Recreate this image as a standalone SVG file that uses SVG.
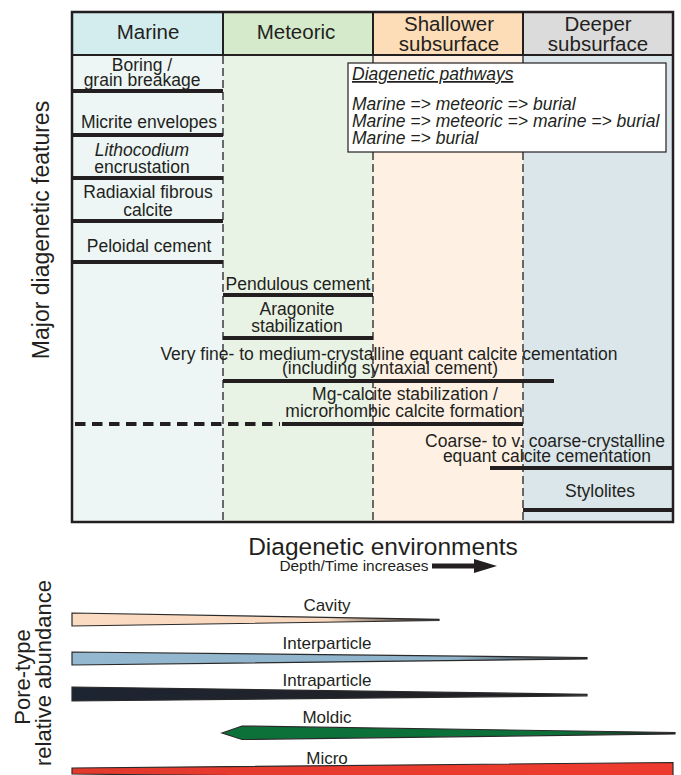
<svg xmlns="http://www.w3.org/2000/svg" width="681" height="775" viewBox="0 0 681 775">
<style>
text{font-family:"Liberation Sans",Arial,sans-serif;fill:#231f20}
.hd{font-size:20.5px;text-anchor:middle}
.ft{font-size:17.5px;text-anchor:middle}
.lg{font-size:17.5px;font-style:italic}
.pl{font-size:17px;text-anchor:middle}
.big{font-size:23px;text-anchor:middle}
.bar{stroke:#231f20;stroke-width:4;fill:none}
.dv{stroke:#231f20;stroke-width:1.3;stroke-dasharray:8 4;fill:none}
.sd{stroke:#231f20;stroke-width:2;fill:none}
.wd{stroke:#2a2a2a;stroke-width:1.2;stroke-linejoin:miter}
</style>
<defs>
<linearGradient id="gCav" x1="72" y1="0" x2="439" y2="0" gradientUnits="userSpaceOnUse"><stop offset="0" stop-color="#fbdcc2"/><stop offset="0.7" stop-color="#f7d7bd"/><stop offset="1" stop-color="#231f20"/></linearGradient>
<linearGradient id="gInter" x1="72" y1="0" x2="587" y2="0" gradientUnits="userSpaceOnUse"><stop offset="0" stop-color="#93b8cf"/><stop offset="0.75" stop-color="#8fb3ca"/><stop offset="1" stop-color="#231f20"/></linearGradient>
<linearGradient id="gIntra" x1="72" y1="0" x2="587" y2="0" gradientUnits="userSpaceOnUse"><stop offset="0" stop-color="#1d2532"/><stop offset="1" stop-color="#231f20"/></linearGradient>
<linearGradient id="gMold" x1="222" y1="0" x2="675" y2="0" gradientUnits="userSpaceOnUse"><stop offset="0" stop-color="#0b7139"/><stop offset="0.75" stop-color="#0b7139"/><stop offset="1" stop-color="#231f20"/></linearGradient>
<linearGradient id="gMicro" x1="72" y1="0" x2="673" y2="0" gradientUnits="userSpaceOnUse"><stop offset="0" stop-color="#e33a2d"/><stop offset="1" stop-color="#ee3b2f"/></linearGradient>
</defs>

<g id="columns">
<rect x="72" y="55" width="151" height="467" fill="#edf6f5"/>
<rect x="223" y="55" width="150" height="467" fill="#e9f3e5"/>
<rect x="373" y="55" width="150" height="467" fill="#fef1e4"/>
<rect x="523" y="55" width="150" height="467" fill="#dbe6ea"/>
<rect x="72" y="12" width="151" height="43" fill="#d3ecee"/>
<rect x="223" y="12" width="150" height="43" fill="#d5e9cb"/>
<rect x="373" y="12" width="150" height="43" fill="#fddcb8"/>
<rect x="523" y="12" width="150" height="43" fill="#dcdbdb"/>
<line class="sd" x1="72" y1="55" x2="673" y2="55"/>
<line class="sd" x1="223" y1="12" x2="223" y2="55"/>
<line class="sd" x1="373" y1="12" x2="373" y2="55"/>
<line class="sd" x1="523" y1="12" x2="523" y2="55"/>
<line class="dv" x1="223" y1="56" x2="223" y2="521"/>
<line class="dv" x1="373" y1="56" x2="373" y2="521"/>
<line class="dv" x1="523" y1="56" x2="523" y2="521"/>
<rect x="72" y="12" width="601" height="510" fill="none" stroke="#231f20" stroke-width="2.5"/>
</g>

<g id="headers">
<g id="h-marine"><text class="hd" x="148" y="39">Marine</text></g>
<g id="h-meteoric"><text class="hd" x="296" y="39">Meteoric</text></g>
<g id="h-shallower"><text class="hd" x="449" y="31">Shallower</text><text class="hd" x="449" y="51">subsurface</text></g>
<g id="h-deeper"><text class="hd" x="598" y="31">Deeper</text><text class="hd" x="598" y="51">subsurface</text></g>
</g>

<g id="legend">
<rect x="348" y="63" width="318" height="89" fill="#ffffff" stroke="#231f20" stroke-width="1.2"/>
<text class="lg" x="352" y="80" text-decoration="underline">Diagenetic pathways</text>
<text class="lg" x="352" y="110">Marine =&gt; meteoric =&gt; burial</text>
<text class="lg" x="352" y="127">Marine =&gt; meteoric =&gt; marine =&gt; burial</text>
<text class="lg" x="352" y="144">Marine =&gt; burial</text>
</g>

<g id="features">
<g id="f-boring"><text class="ft" x="142" y="71">Boring /</text><text class="ft" x="142" y="86">grain breakage</text></g>
<g id="f-micrite"><text class="ft" x="149" y="128">Micrite envelopes</text></g>
<g id="f-litho"><text class="ft" x="142" y="156" font-style="italic">Lithocodium</text><text class="ft" x="142" y="173">encrustation</text></g>
<g id="f-radiaxial"><text class="ft" x="148" y="198">Radiaxial fibrous</text><text class="ft" x="148" y="216">calcite</text></g>
<g id="f-peloidal"><text class="ft" x="149" y="252">Peloidal cement</text></g>
<g id="f-pendulous"><text class="ft" x="298" y="290">Pendulous cement</text></g>
<g id="f-aragonite"><text class="ft" x="297" y="315">Aragonite</text><text class="ft" x="297" y="332">stabilization</text></g>
<g id="f-veryfine"><text class="ft" x="389" y="360">Very fine- to medium-crystalline equant calcite cementation</text><text class="ft" x="390" y="374">(including syntaxial cement)</text></g>
<g id="f-mgcalcite"><text class="ft" x="405" y="400">Mg-calcite stabilization /</text><text class="ft" x="404" y="417">microrhombic calcite formation</text></g>
<g id="f-coarse"><text class="ft" x="545" y="447">Coarse- to v. coarse-crystalline</text><text class="ft" x="547" y="462">equant calcite cementation</text></g>
<g id="f-stylolites"><text class="ft" x="600" y="497">Stylolites</text></g>
</g>

<g id="connectors">
<line class="bar" x1="72" y1="91" x2="223" y2="91"/>
<line class="bar" x1="72" y1="135" x2="223" y2="135"/>
<line class="bar" x1="72" y1="178" x2="223" y2="178"/>
<line class="bar" x1="72" y1="221" x2="223" y2="221"/>
<line class="bar" x1="72" y1="262" x2="223" y2="262"/>
<line class="bar" x1="223" y1="295" x2="373" y2="295"/>
<line class="bar" x1="223" y1="338" x2="373" y2="338"/>
<line class="bar" x1="223" y1="381" x2="554" y2="381"/>
<line class="bar" x1="75" y1="424" x2="280" y2="424" stroke-dasharray="10.5 6.5"/>
<line class="bar" x1="282" y1="424" x2="523" y2="424"/>
<line class="bar" x1="490" y1="468" x2="673" y2="468"/>
<line class="bar" x1="523" y1="510" x2="673" y2="510"/>
</g>

<g id="axes">
<text class="big" transform="translate(49,230) rotate(-90)" x="0" y="0">Major diagenetic features</text>
<text x="383" y="555" font-size="24.5" text-anchor="middle">Diagenetic environments</text>
<text x="354" y="571" font-size="15.4" text-anchor="middle">Depth/Time increases</text>
<polygon points="432,563.5 474,563.5 474,559 497,566 474,573 474,568.5 432,568.5" fill="#231f20"/>
<text font-size="22" text-anchor="middle" transform="translate(30,677) rotate(-90)">Pore-type</text>
<text font-size="22" text-anchor="middle" transform="translate(51,673) rotate(-90)">relative abundance</text>
</g>

<g id="pores">
<g id="p-cavity"><polygon class="wd" points="72,613 439,619.3 439,620.5 72,626" fill="url(#gCav)"/><text class="pl" x="327" y="611">Cavity</text></g>
<g id="p-inter"><polygon class="wd" points="72,652 587,657.5 587,659 72,665" fill="url(#gInter)"/><text class="pl" x="327" y="649">Interparticle</text></g>
<g id="p-intra"><polygon class="wd" points="72,687 587,694.3 587,695.8 72,701" fill="url(#gIntra)"/><text class="pl" x="327" y="686">Intraparticle</text></g>
<g id="p-moldic"><polygon class="wd" points="222,733 242,726 675,732.5 675,734 242,739.5" fill="url(#gMold)"/><text class="pl" x="327" y="723">Moldic</text></g>
<g id="p-micro"><polygon class="wd" points="72,768 673,762.5 673,780 72,774" fill="url(#gMicro)"/><text class="pl" x="327" y="764">Micro</text></g>
</g>
</svg>
